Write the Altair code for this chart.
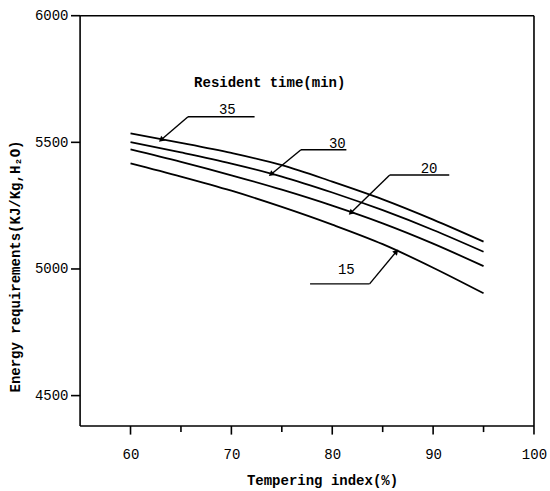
import altair as alt
import pandas as pd

# Curve data
tempering = [60, 65, 70, 75, 80, 85, 90, 95]
e35 = [5535, 5498, 5458, 5410, 5345, 5275, 5195, 5108]
e30 = [5501, 5460, 5416, 5365, 5302, 5232, 5154, 5068]
e20 = [5472, 5423, 5370, 5313, 5250, 5180, 5100, 5011]
e15 = [5417, 5365, 5309, 5245, 5175, 5098, 5005, 4904]
series_names = ["35", "30", "20", "15"]

# Axis tick values
y_ticks = [4500, 5000, 5500, 6000]
x_major = [60, 70, 80, 90, 100]
x_minor = [65, 75, 85, 95]

# Annotation leader lines (data units)
lab_text = ["35", "30", "20", "15"]
lab_x = [69.6, 80.5, 89.6, 81.4]
lab_y = [5628, 5495, 5395, 4995]
hline_x1 = [65.7, 76.9, 85.7, 77.8]
hline_x2 = [72.3, 81.4, 91.6, 83.7]
hline_y = [5601, 5471, 5371, 4941]
tip_x = [63.1, 74.0, 81.9, 86.3]
tip_y = [5512, 5376, 5224, 5066]
tip_angle = [230, 231, 226, 42]

title_text = ["Resident time(min)"]
title_x = [73.8]
title_y = [5735]

# Frame of the plot (data units)
X_MIN, X_MAX = 55, 100
Y_MIN, Y_MAX = 4380, 6000
# Visible scale range, a little wider than the frame so ticks stay inside the view
X_LO, X_HI = 54.0, 100.2
Y_LO, Y_HI = 4340.5, 6006.7
Y_TICK_LEN = 0.9      # x units
X_MAJOR_LEN = 34      # y units
X_MINOR_LEN = 24      # y units

rows = []
for name, vals in zip(series_names, [e35, e30, e20, e15]):
    for t, v in zip(tempering, vals):
        rows.append({"t": t, "e": v, "s": name})
curves_df = pd.DataFrame(rows)

ann = pd.DataFrame({
    "lab": lab_text, "lx": lab_x, "ly": lab_y,
    "hx1": hline_x1, "hx2": hline_x2, "hy": hline_y,
    "tx": tip_x, "ty": tip_y, "ang": tip_angle,
})
ttl = pd.DataFrame({"txt": title_text, "x": title_x, "y": title_y})

frame_df = pd.DataFrame({
    "x1": [X_MIN, X_MIN, X_MIN, X_MAX],
    "x2": [X_MIN, X_MAX, X_MAX, X_MAX],
    "y1": [Y_MIN, Y_MIN, Y_MAX, Y_MIN],
    "y2": [Y_MAX, Y_MIN, Y_MAX, Y_MAX],
})
tick_rows = []
for v in y_ticks:
    tick_rows.append({"x1": X_MIN, "x2": X_MIN - Y_TICK_LEN, "y1": v, "y2": v})
for v in x_major:
    tick_rows.append({"x1": v, "x2": v, "y1": Y_MIN, "y2": Y_MIN - X_MAJOR_LEN})
for v in x_minor:
    tick_rows.append({"x1": v, "x2": v, "y1": Y_MIN, "y2": Y_MIN - X_MINOR_LEN})
ticks_df = pd.DataFrame(tick_rows)

MONO = "Liberation Mono"
xscale = alt.Scale(domain=[X_LO, X_HI], nice=False, zero=False)
yscale = alt.Scale(domain=[Y_LO, Y_HI], nice=False, zero=False)

xaxis = alt.Axis(
    values=x_major, format="d", domain=False, ticks=False, tickSize=0,
    labelPadding=11, labelFlush=False, labelOverlap=False,
    title="Tempering index(%)", titleX=252, titleY=44,
)
yaxis = alt.Axis(
    values=y_ticks, format="d", domain=False, ticks=False, tickSize=0,
    labelPadding=2, labelFlush=False, labelOverlap=False,
    labelBaseline="middle",
    title="Energy requirements(KJ/Kg,H₂O)",
    titleX=-55, titleY=252, titleAngle=270,
)

curves = alt.Chart(curves_df).mark_line(
    interpolate="monotone", color="black", strokeWidth=1.8
).encode(
    x=alt.X("t:Q", scale=xscale, axis=xaxis),
    y=alt.Y("e:Q", scale=yscale, axis=yaxis),
    detail="s:N",
)

frame = alt.Chart(frame_df).mark_rule(color="black", strokeWidth=1.6).encode(
    x="x1:Q", x2="x2:Q", y="y1:Q", y2="y2:Q"
)
ticks = alt.Chart(ticks_df).mark_rule(color="black", strokeWidth=1.6).encode(
    x="x1:Q", x2="x2:Q", y="y1:Q", y2="y2:Q"
)

hlines = alt.Chart(ann).mark_rule(color="black", strokeWidth=1.4).encode(
    x="hx1:Q", x2="hx2:Q", y="hy:Q"
)
diag_other = alt.Chart(ann).mark_rule(color="black", strokeWidth=1.4).encode(
    x="hx1:Q", x2="tx:Q", y="hy:Q", y2="ty:Q"
).transform_filter("datum.lab !== '15'")
diag15 = alt.Chart(ann).mark_rule(color="black", strokeWidth=1.4).encode(
    x="hx2:Q", x2="tx:Q", y="hy:Q", y2="ty:Q"
).transform_filter("datum.lab === '15'")

arrows = alt.Chart(ann).mark_point(
    shape="triangle", filled=True, color="black", size=40, opacity=1
).encode(x="tx:Q", y="ty:Q", angle=alt.Angle("ang:Q", scale=None))

labels = alt.Chart(ann).mark_text(
    font=MONO, fontSize=14, color="black", baseline="middle", align="center"
).encode(x="lx:Q", y="ly:Q", text="lab:N")

title = alt.Chart(ttl).mark_text(
    font=MONO, fontSize=14, fontWeight="bold", color="black",
    baseline="middle", align="center"
).encode(x="x:Q", y="y:Q", text="txt:N")

chart = alt.layer(
    curves, frame, ticks, hlines, diag_other, diag15, arrows, labels, title
).properties(
    width=466, height=422,
    autosize=alt.AutoSizeParams(type="none"),
    padding={"left": 70, "top": 14, "right": 14, "bottom": 55},
).configure(
    background="#ffffff"
).configure_view(
    stroke="transparent", strokeWidth=0
).configure_axis(
    grid=False,
    labelFont=MONO, labelFontSize=14, labelColor="#000000",
    titleFont=MONO, titleFontSize=14, titleFontWeight="bold",
    titleColor="#000000", titleBaseline="middle", titleAlign="center",
)

chart.save("out.html", embed_options={"renderer": "svg", "actions": False})
